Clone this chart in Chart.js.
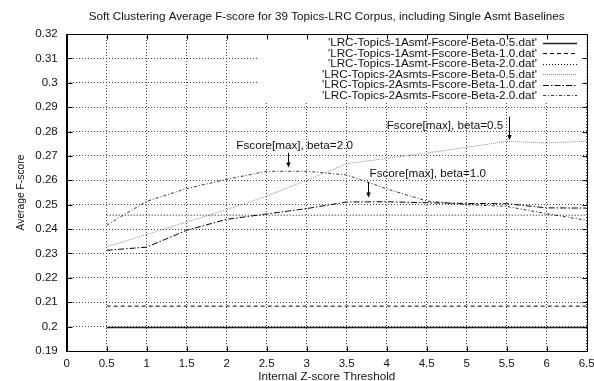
<!DOCTYPE html>
<html><head><meta charset="utf-8">
<script src="https://cdn.jsdelivr.net/npm/chart.js@4/dist/chart.umd.min.js"></script>
<style>html,body{margin:0;padding:0;background:#fff;overflow:hidden}#wrap{width:594px;height:381px;position:relative}</style>
</head><body><div id="wrap"><canvas id="c" width="594" height="381"></canvas></div>
<script>
// ---------- data ----------
const chartTitle = 'Soft Clustering Average F-score for 39 Topics-LRC Corpus, including Single Asmt Baselines';
const xAxisTitle = 'Internal Z-score Threshold';
const yAxisTitle = 'Average F-score';

const thresholds = [0.5, 1, 1.5, 2, 2.5, 3, 3.5, 4, 4.5, 5, 5.5, 6, 6.5];

const xTickValues = [0, 0.5, 1, 1.5, 2, 2.5, 3, 3.5, 4, 4.5, 5, 5.5, 6, 6.5];
const xTickLabels = ['0', '0.5', '1', '1.5', '2', '2.5', '3', '3.5', '4', '4.5', '5', '5.5', '6', '6.5'];
const yTickValues = [0.19, 0.20, 0.21, 0.22, 0.23, 0.24, 0.25, 0.26, 0.27, 0.28, 0.29, 0.30, 0.31, 0.32];
const yTickLabels = ['0.19', '0.2', '0.21', '0.22', '0.23', '0.24', '0.25', '0.26', '0.27', '0.28', '0.29', '0.3', '0.31', '0.32'];

const seriesNames = [
  "'LRC-Topics-1Asmt-Fscore-Beta-0.5.dat'",
  "'LRC-Topics-1Asmt-Fscore-Beta-1.0.dat'",
  "'LRC-Topics-1Asmt-Fscore-Beta-2.0.dat'",
  "'LRC-Topics-2Asmts-Fscore-Beta-0.5.dat'",
  "'LRC-Topics-2Asmts-Fscore-Beta-1.0.dat'",
  "'LRC-Topics-2Asmts-Fscore-Beta-2.0.dat'"
];
const asmt1Beta05 = [0.1996, 0.1996, 0.1996, 0.1996, 0.1996, 0.1996, 0.1996, 0.1996, 0.1996, 0.1996, 0.1996, 0.1996, 0.1996];
const asmt1Beta10 = [0.2084, 0.2084, 0.2084, 0.2084, 0.2084, 0.2084, 0.2084, 0.2084, 0.2084, 0.2084, 0.2084, 0.2084, 0.2084];
const asmt1Beta20 = [0.2457, 0.2457, 0.2457, 0.2457, 0.2457, 0.2457, 0.2457, 0.2457, 0.2457, 0.2457, 0.2457, 0.2457, 0.2457];
const asmts2Beta05 = [0.2327, 0.2378, 0.2429, 0.2480, 0.2535, 0.2600, 0.2668, 0.2690, 0.2712, 0.2735, 0.2760, 0.2753, 0.2760];
const asmts2Beta10 = [0.2313, 0.2326, 0.2395, 0.2440, 0.2462, 0.2484, 0.2511, 0.2512, 0.2508, 0.2505, 0.2504, 0.2487, 0.2486];
const asmts2Beta20 = [0.2416, 0.2514, 0.2566, 0.2604, 0.2637, 0.2637, 0.2622, 0.2565, 0.2515, 0.2500, 0.2493, 0.2463, 0.2436];

const annotationTexts = ['Fscore[max], beta=2.0', 'Fscore[max], beta=1.0', 'Fscore[max], beta=0.5'];
const annotationTextX = [2.12, 3.785, 4.0];
const annotationTextY = [0.2728, 0.2612, 0.2810];
const annotationArrowX = [2.77, 3.77, 5.53];
const annotationArrowFrom = [0.2713, 0.2594, 0.2861];
const annotationArrowTo = [0.2653, 0.2530, 0.2765];

// ---------- styles ----------
const FONT = '"Liberation Sans", Arial, Helvetica, sans-serif';
const TEXT_SIZE = 11.7;
const SQUISH = 0.88;
const seriesStyles = [
  {color: '#222', width: 1.5, dash: []},
  {color: '#000', width: 1, dash: [4, 3]},
  {color: '#000', width: 1, dash: [1, 2]},
  {color: '#8c8c8c', width: 1, dash: [1, 1]},
  {color: '#000', width: 1, dash: [6, 2, 1.5, 2]},
  {color: '#333', width: 1, dash: [3, 2, 1, 2]}
];
const seriesValues = [asmt1Beta05, asmt1Beta10, asmt1Beta20, asmts2Beta05, asmts2Beta10, asmts2Beta20];

function drawText(ctx, text, x, y, align, rotate) {
  ctx.save();
  ctx.font = TEXT_SIZE + 'px ' + FONT;
  ctx.fillStyle = '#111';
  ctx.textAlign = align;
  ctx.textBaseline = 'alphabetic';
  ctx.translate(x, y);
  if (rotate) { ctx.rotate(-Math.PI / 2); ctx.scale(SQUISH, 1); }
  else ctx.scale(1, SQUISH);
  ctx.fillText(text, 0, 0);
  ctx.restore();
}
const al = v => Math.round(v) + 0.5;

const gnuplotPlugin = {
  id: 'gnuplotDecor',
  beforeDatasetsDraw(chart) {
    const ctx = chart.ctx, a = chart.chartArea;
    // key box area is kept clear of grid lines
    ctx.save();
    ctx.fillStyle = '#fff';
    ctx.fillRect(259, a.top + 1, a.right - 259, 101 - a.top);
    ctx.restore();
  },
  afterDraw(chart) {
    const ctx = chart.ctx, a = chart.chartArea;
    const xs = chart.scales.x, ys = chart.scales.y;
    ctx.save();
    // frame
    ctx.strokeStyle = '#000'; ctx.lineWidth = 1; ctx.setLineDash([]);
    ctx.strokeRect(al(a.left), al(a.top), Math.round(a.right) - Math.round(a.left), Math.round(a.bottom) - Math.round(a.top));
    // mirrored inward ticks
    ctx.beginPath();
    xTickValues.forEach(v => {
      const px = al(xs.getPixelForValue(v));
      ctx.moveTo(px, al(a.bottom)); ctx.lineTo(px, al(a.bottom) - 5);
      ctx.moveTo(px, al(a.top)); ctx.lineTo(px, al(a.top) + 5);
    });
    yTickValues.forEach(v => {
      const py = al(ys.getPixelForValue(v));
      ctx.moveTo(al(a.left), py); ctx.lineTo(al(a.left) + 5, py);
      ctx.moveTo(al(a.right), py); ctx.lineTo(al(a.right) - 5, py);
    });
    ctx.stroke();
    ctx.restore();

    // title and axis titles
    drawText(ctx, chartTitle, (a.left + a.right) / 2, 20, 'center');
    drawText(ctx, xAxisTitle, (a.left + a.right) / 2, 380, 'center');
    drawText(ctx, yAxisTitle, 24, (a.top + a.bottom) / 2, 'center', true);

    // key
    const keyTextRight = 537, sampleL = 543, sampleR = 577;
    seriesNames.forEach((name, i) => {
      const cy = 42.7 + i * 10.52;
      drawText(ctx, name, keyTextRight, cy + 3.6, 'right');
      const st = seriesStyles[i];
      ctx.save();
      ctx.strokeStyle = st.color; ctx.lineWidth = st.width; ctx.setLineDash(st.dash);
      ctx.beginPath(); ctx.moveTo(sampleL, Math.round(cy) + 0.5); ctx.lineTo(sampleR, Math.round(cy) + 0.5); ctx.stroke();
      ctx.restore();
    });

    // annotations with arrows
    annotationTexts.forEach((t, i) => {
      drawText(ctx, t, xs.getPixelForValue(annotationTextX[i]), ys.getPixelForValue(annotationTextY[i]), 'left');
      const ax = al(xs.getPixelForValue(annotationArrowX[i]));
      const y1 = ys.getPixelForValue(annotationArrowFrom[i]);
      const y2 = ys.getPixelForValue(annotationArrowTo[i]);
      ctx.save();
      ctx.strokeStyle = '#000'; ctx.fillStyle = '#000'; ctx.lineWidth = 1; ctx.setLineDash([]);
      ctx.beginPath(); ctx.moveTo(ax, y1); ctx.lineTo(ax, y2 - 3); ctx.stroke();
      ctx.beginPath(); ctx.moveTo(ax - 2.2, y2 - 5); ctx.lineTo(ax + 2.2, y2 - 5); ctx.lineTo(ax, y2); ctx.closePath(); ctx.fill();
      ctx.restore();
    });
  }
};

const datasets = seriesNames.map((name, i) => ({
  label: name,
  data: thresholds.map((x, j) => ({x: x, y: seriesValues[i][j]})),
  borderColor: seriesStyles[i].color,
  borderWidth: seriesStyles[i].width,
  borderDash: seriesStyles[i].dash,
  pointRadius: 0,
  fill: false,
  tension: 0
}));

new Chart(document.getElementById('c'), {
  type: 'line',
  data: {datasets: datasets},
  plugins: [gnuplotPlugin],
  options: {
    responsive: false,
    animation: false,
    devicePixelRatio: 1,
    layout: {padding: {top: 34, right: 7.3, left: 0, bottom: 0}},
    plugins: {legend: {display: false}, title: {display: false}, tooltip: {enabled: false}},
    scales: {
      x: {
        type: 'linear', min: 0, max: 6.5,
        afterBuildTicks: s => { s.ticks = xTickValues.map(v => ({value: v})); },
        afterFit: s => { s.height = 30; s.paddingLeft = 0; s.paddingRight = 0; },
        ticks: {
          autoSkip: false, maxRotation: 0, padding: 6, color: '#111',
          font: {family: FONT, size: 11.5},
          callback: (v, i) => xTickLabels[i]
        },
        grid: {color: 'rgba(0,0,0,0.75)', lineWidth: 1, drawTicks: false},
        border: {display: true, color: '#000', dash: [1, 2]}
      },
      y: {
        type: 'linear', min: 0.19, max: 0.32,
        afterBuildTicks: s => { s.ticks = yTickValues.map(v => ({value: v})); },
        afterFit: s => { s.width = 66.7; s.paddingTop = 0; s.paddingBottom = 0; },
        ticks: {
          autoSkip: false, padding: 9, color: '#111',
          font: {family: FONT, size: 11.5},
          callback: (v, i) => yTickLabels[i]
        },
        grid: {color: 'rgba(0,0,0,0.75)', lineWidth: 1, drawTicks: false},
        border: {display: true, color: '#000', dash: [1, 2]}
      }
    }
  }
});
</script>
</body></html>
